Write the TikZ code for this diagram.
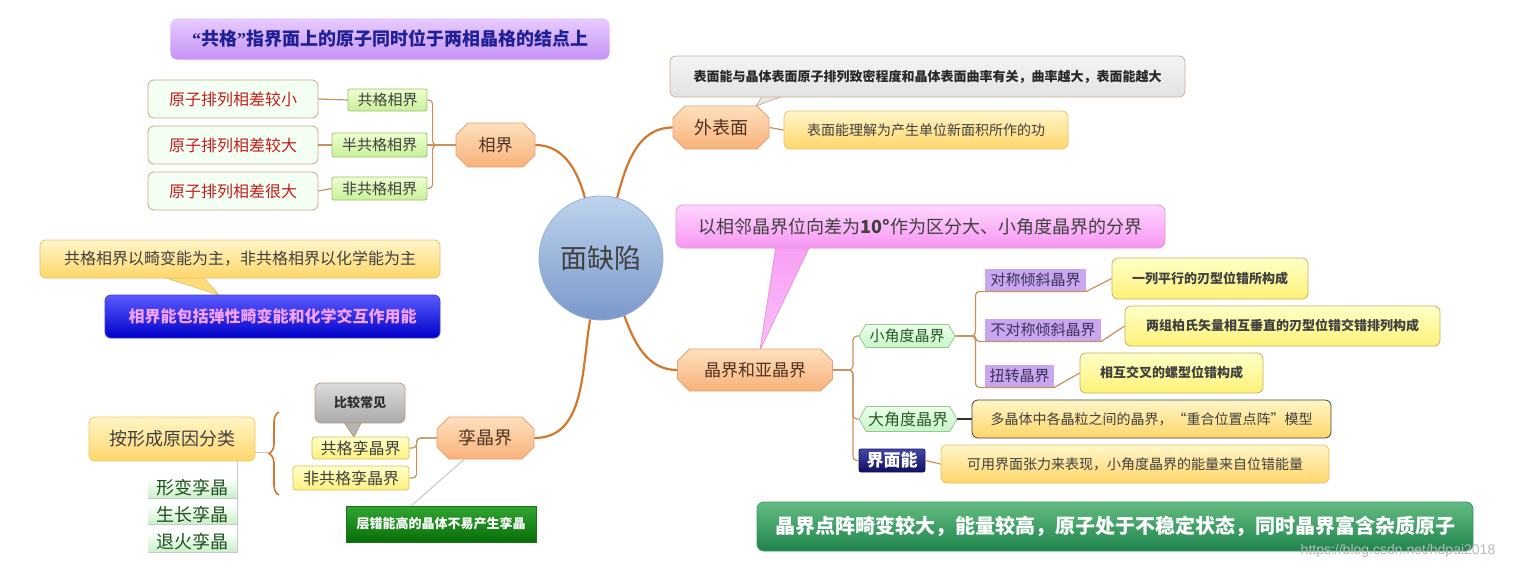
\documentclass[tikz,border=0pt]{standalone}
\usepackage{fontspec}
\setmainfont{Noto Sans CJK SC}
\newfontfamily\wmfont{Liberation Sans}
\newfontfamily\qfont{Liberation Serif}
\usetikzlibrary{shapes.misc,shapes.symbols,decorations.pathreplacing}
\definecolor{brn}{HTML}{C8925E}
\definecolor{mainc}{HTML}{D2782E}
\definecolor{txt}{HTML}{404040}
\tikzset{
  fs/.style={font=\fontsize{#1}{#1}\selectfont},
  sz/.style 2 args={minimum width=#1, minimum height=#2},
  base/.style={inner sep=0pt, align=center, line width=0.8pt, text=txt},
  banner/.style={base, rounded corners=7pt, draw=white, top color={rgb,255:red,232;green,204;blue,255}, bottom color={rgb,255:red,196;green,146;blue,244}, text={rgb,255:red,32;green,32;blue,150}},
  redbox/.style={base, rounded corners=6pt, draw={rgb,255:red,200;green,168;blue,140}, fill={rgb,255:red,242;green,255;blue,242}, text={rgb,255:red,196;green,30;blue,30}, fs=16},
  greenbox/.style={base, rounded corners=2pt, draw={rgb,255:red,156;green,192;blue,112}, top color={rgb,255:red,238;green,255;blue,208}, bottom color={rgb,255:red,200;green,240;blue,154}, fs=15},
  octbox/.style={base, chamfered rectangle, chamfered rectangle xsep=6pt, chamfered rectangle ysep=6pt, draw={rgb,255:red,232;green,160;blue,112}, top color={rgb,255:red,255;green,224;blue,190}, bottom color={rgb,255:red,247;green,178;blue,122}, text={rgb,255:red,80;green,50;blue,30}},
  yelbox/.style={base, rounded corners=6pt, draw={rgb,255:red,232;green,192;blue,112}, top color={rgb,255:red,255;green,246;blue,200}, bottom color={rgb,255:red,255;green,214;blue,106}},
  lyelbox/.style={base, rounded corners=6pt, draw={rgb,255:red,200;green,176;blue,96}, top color={rgb,255:red,255;green,255;blue,200}, bottom color={rgb,255:red,255;green,242;blue,120}, fs=13, font=\fontsize{13}{13}\selectfont\bfseries},
  ytopic/.style={base, rounded corners=3pt, draw={rgb,255:red,216;green,192;blue,96}, top color={rgb,255:red,255;green,255;blue,200}, bottom color={rgb,255:red,255;green,240;blue,128}, fs=16},
  graybox/.style={base, rounded corners=6pt, draw={rgb,255:red,196;green,150;blue,112}, top color={rgb,255:red,220;green,220;blue,220}, bottom color={rgb,255:red,170;green,170;blue,170}, text={rgb,255:red,48;green,48;blue,48}},
  hexbox/.style={base, signal, signal to=west and east, signal pointer angle=120, draw={rgb,255:red,150;green,200;blue,140}, top color={rgb,255:red,235;green,255;blue,235}, bottom color={rgb,255:red,200;green,245;blue,200}, text={rgb,255:red,40;green,90;blue,40}},
  plabel/.style={base, fill={rgb,255:red,200;green,166;blue,240}, fs=15, text={rgb,255:red,60;green,50;blue,90}},
  item/.style={base, top color=white, bottom color={rgb,255:red,200;green,240;blue,200}, fs=18, text={rgb,255:red,32;green,80;blue,32}},
  thinline/.style={draw=brn, line width=1.2pt, rounded corners=4pt},
  mainline/.style={draw=mainc, line width=2.2pt},
  grayline/.style={draw={rgb,255:red,200;green,200;blue,200}, line width=1pt},
}
\begin{document}
\begin{tikzpicture}[x=1pt,y=-1pt]
\useasboundingbox[fill=white] (0,0) rectangle (1518,571);

% callout pointers
\filldraw[fill={rgb,255:red,255;green,220;blue,120}, draw={rgb,255:red,232;green,192;blue,112}, line width=0.8pt] (160,276) -- (219,295) -- (202,276) -- cycle;
\filldraw[fill={rgb,255:red,180;green,180;blue,180}, draw={rgb,255:red,196;green,150;blue,112}, line width=0.8pt] (343,421) -- (354,437) -- (362,421) -- cycle;
\filldraw[fill={rgb,255:red,232;green,232;blue,232}, draw={rgb,255:red,208;green,176;blue,144}, line width=0.8pt] (763,95) -- (756,106) -- (786,95) -- cycle;
\shade[top color={rgb,255:red,248;green,160;blue,244}, bottom color={rgb,255:red,250;green,190;blue,250}] (776,246) -- (760,350) -- (810,246) -- cycle;
\draw[draw={rgb,255:red,232;green,150;blue,210}, line width=0.8pt] (776,246) -- (760,350) -- (810,246);

% top banner
\node[banner, sz={440}{42}, font=\fontsize{18}{18}\selectfont\bfseries] (ban) at (390,39) {{\qfont\bfseries “}共格{\qfont\bfseries ”}指界面上的原子同时位于两相晶格的结点上};

% phase boundaries
\node[redbox, sz={170}{38}] (lb1) at (233,99) {原子排列相差较小};
\node[redbox, sz={170}{38}] (lb2) at (233,145) {原子排列相差较大};
\node[redbox, sz={170}{38}] (lb3) at (233,191) {原子排列相差很大};
\node[greenbox, sz={79}{22}] (gg1) at (387.5,100) {共格相界};
\node[greenbox, sz={95}{24}] (gg2) at (379.5,145) {半共格相界};
\node[greenbox, sz={95}{23}] (gg3) at (379.5,188.5) {非共格相界};
\node[octbox, sz={79}{44}, fs=17] (xj) at (495.5,145) {相界};

% centre
\node[base, circle, minimum size=124, top color={rgb,255:red,190;green,212;blue,238}, bottom color={rgb,255:red,122;green,152;blue,202}, draw={rgb,255:red,150;green,175;blue,215}, fs=27] (c) at (601,258) {面缺陷};

% notes left
\node[yelbox, sz={400}{38}, fs=16] (n1) at (240,259) {共格相界以畸变能为主，非共格相界以化学能为主};
\node[base, rounded corners=6pt, draw={rgb,255:red,60;green,60;blue,230}, top color={rgb,255:red,90;green,90;blue,255}, bottom color={rgb,255:red,0;green,0;blue,200}, sz={335}{43}, font=\fontsize{16}{16}\selectfont\bfseries, text={rgb,255:red,246;green,160;blue,255}] (bl) at (272.5,316.5) {相界能包括弹性畸变能和化学交互作用能};

% twin boundaries
\node[yelbox, sz={166}{44}, fs=18, draw={rgb,255:red,240;green,200;blue,96}] (cls) at (172,439) {按形成原因分类};
\node[item, sz={89}{20}] (it1) at (192.5,488) {形变孪晶};
\node[item, sz={89}{20}] (it2) at (192.5,514.5) {生长孪晶};
\node[item, sz={89}{20}] (it3) at (192.5,542) {退火孪晶};
\node[graybox, sz={90}{40}, font=\fontsize{13}{13}\selectfont\bfseries] (cj) at (360,403) {比较常见};
\node[ytopic, sz={97}{22}] (t1) at (360.5,448) {共格孪晶界};
\node[ytopic, sz={116}{24}] (t2) at (351,478) {非共格孪晶界};
\node[octbox, sz={97}{42}, fs=18] (lj) at (485.5,438) {孪晶界};
\node[base, draw={rgb,255:red,20;green,120;blue,20}, top color={rgb,255:red,50;green,165;blue,50}, bottom color={rgb,255:red,8;green,110;blue,8}, sz={190}{36}, font=\fontsize{13}{13}\selectfont\bfseries, text=white] (gb) at (441,524) {层错能高的晶体不易产生孪晶};

% outer surface
\node[base, rounded corners=6pt, draw={rgb,255:red,208;green,176;blue,144}, top color={rgb,255:red,244;green,244;blue,244}, bottom color={rgb,255:red,226;green,226;blue,226}, sz={515}{41}, font=\fontsize{13}{13}\selectfont\bfseries, text={rgb,255:red,40;green,40;blue,40}] (gc) at (927.5,76.5) {表面能与晶体表面原子排列致密程度和晶体表面曲率有关，曲率越大，表面能越大};
\node[octbox, sz={96}{43}, fs=18] (wb) at (721,127.5) {外表面};
\node[yelbox, sz={284}{38}, fs=14] (wy) at (926,130) {表面能理解为产生单位新面积所作的功};

% grain boundaries
\node[base, rounded corners=7pt, draw={rgb,255:red,232;green,150;blue,210}, top color={rgb,255:red,255;green,214;blue,255}, bottom color={rgb,255:red,246;green,150;blue,242}, sz={489}{43}, fs=18] (pk) at (920.5,226.5) {以相邻晶界位向差为\textbf{10°}作为区分大、小角度晶界的分界};
\node[octbox, sz={155}{42}, fs=17] (jj) at (755,370) {晶界和亚晶界};
\node[hexbox, sz={96}{23}, fs=15] (xa) at (907,336) {小角度晶界};
\node[plabel, sz={101}{22}] (l1) at (1035.5,280) {对称倾斜晶界};
\node[plabel, sz={116}{22}] (l2) at (1043,330) {不对称倾斜晶界};
\node[plabel, sz={69}{22}] (l3) at (1019.5,376) {扭转晶界};
\node[lyelbox, sz={196}{41}] (b1) at (1210,278.5) {一列平行的刃型位错所构成};
\node[lyelbox, sz={315}{40}] (b2) at (1282.5,326) {两组柏氏矢量相互垂直的刃型位错交错排列构成};
\node[lyelbox, sz={183}{40}] (b3) at (1171.5,373) {相互交叉的螺型位错构成};
\node[hexbox, sz={98}{25}, fs=16] (da) at (908,419) {大角度晶界};
\node[yelbox, sz={359}{38}, fs=14, draw={rgb,255:red,64;green,64;blue,64}] (dm) at (1151.5,419) {多晶体中各晶粒之间的晶界，“重合位置点阵”模型};
\node[base, rounded corners=2pt, draw={rgb,255:red,20;green,20;blue,90}, top color={rgb,255:red,70;green,70;blue,170}, bottom color={rgb,255:red,16;green,16;blue,96}, sz={66}{23}, font=\fontsize{17}{17}\selectfont\bfseries, text=white] (jm) at (892,460.5) {界面能};
\node[yelbox, sz={388}{38}, fs=14] (dk) at (1135,464) {可用界面张力来表现，小角度晶界的能量来自位错能量};
\node[base, rounded corners=7pt, draw={rgb,255:red,60;green,150;blue,100}, top color={rgb,255:red,100;green,188;blue,130}, bottom color={rgb,255:red,30;green,132;blue,76}, sz={716}{49}, font=\fontsize{20}{20}\selectfont\bfseries, text=white] (gban) at (1115,526.5) {晶界点阵畸变较大，能量较高，原子处于不稳定状态，同时晶界富含杂质原子};
\node[base, font=\wmfont\fontsize{14}{14}\selectfont, text={rgb,255:red,185;green,185;blue,185}] (wm) at (1398,551) {https://blog.csdn.net/hdpai2018};

% main connectors
\draw[mainline] (c.105) to[out=105, in=0] (xj.east);
\draw[mainline] (c.75) to[out=75, in=180] (wb.west);
\draw[mainline] (c.-68) to[out=-70, in=180] (jj.west);
\draw[mainline] (c.-100) to[out=-100, in=0] (lj.east);

% phase boundary branches
\draw[thinline] (xj.west) -- ++(-23,0) |- (gg1.east);
\draw[thinline] (xj.west) -- (gg2.east);
\draw[thinline] (xj.west) -- ++(-23,0) |- (gg3.east);
\draw[thinline] (gg1.west) -- (lb1.east);
\draw[thinline] (gg2.west) -- (lb2.east);
\draw[thinline] (gg3.west) -- (lb3.east);

% twin branches
\draw[thinline] (lj.west) -- ++(-20,0) |- (t1.east);
\draw[thinline] (lj.west) -- ++(-20,0) |- (t2.east);
\draw[grayline] (lj.-135) -- (gb.148);
\coordinate (btip) at (268,452);
\coordinate (btop) at (279,412);
\coordinate (bbot) at (279,495);
\draw[draw=mainc, line width=1.6pt, decorate, decoration={brace, amplitude=10pt}] (bbot) -- (btop);
\draw[grayline] (cls.east |- btip) -- (btip);
\draw[grayline] (cls.south -| it1.east) -- (it3.south east) -- (it3.south west);
\draw[grayline] (it1.south east) -- (it1.south west);
\draw[grayline] (it2.south east) -- (it2.south west);

% outer surface branch
\draw[thinline] (wb.east) -- (wy.west);

% grain boundary branches
\draw[thinline] (jj.east) -- ++(20,0) |- (xa.west);
\draw[thinline] (jj.east) -- ++(20,0) |- (da.west);
\draw[thinline] (jj.east) -- ++(20,0) |- (jm.west);
\draw[thinline] (xa.east) -- ++(20,0) |- (l1.south west);
\draw[thinline] (xa.east) -- ++(20,0) |- (l2.south west);
\draw[thinline] (xa.east) -- ++(20,0) |- (l3.south west);
\draw[thinline, rounded corners=0pt] (l1.south west) -- (l1.south east) -- (b1.west);
\draw[thinline, rounded corners=0pt] (l2.south west) -- (l2.south east) -- (b2.west);
\draw[thinline, rounded corners=0pt] (l3.south west) -- (l3.south east) -- (b3.west);
\draw[line width=1.4pt, draw={rgb,255:red,50;green,50;blue,50}] (da.east) -- (dm.west);
\draw[thinline] (jm.east) -- (dk.west);
\end{tikzpicture}
\end{document}
